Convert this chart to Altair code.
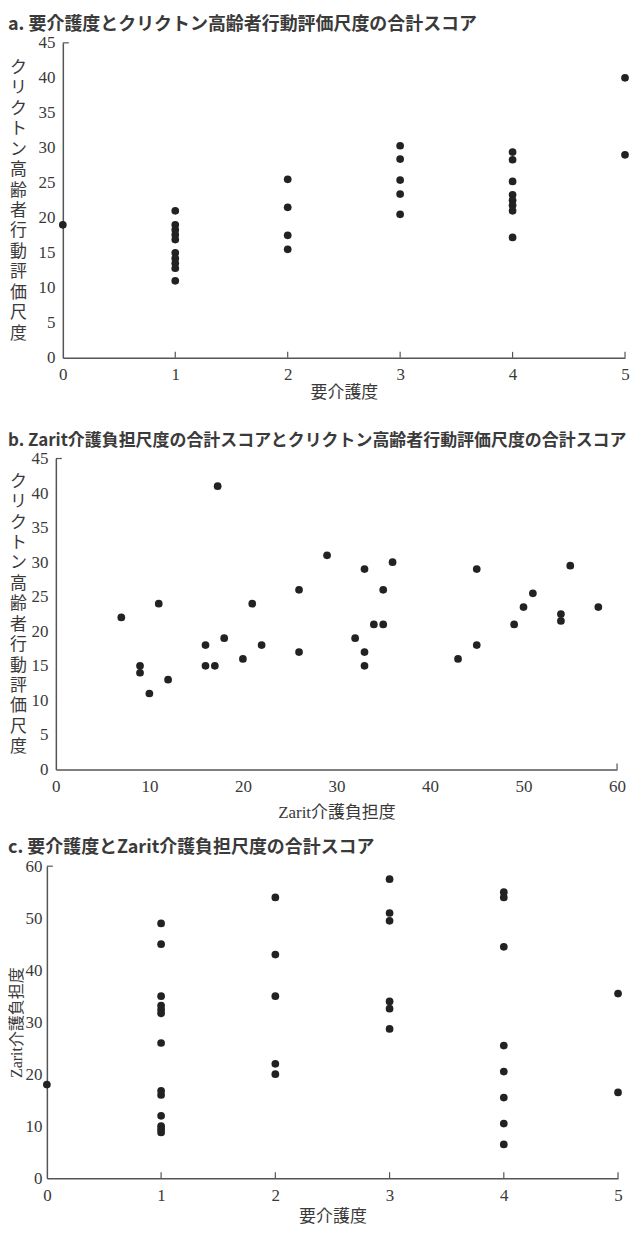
import altair as alt
import pandas as pd

# ---- Panel a: 要介護度 vs クリクトン高齢者行動評価尺度 ----
a_care = [0,
          1, 1, 1, 1, 1, 1, 1, 1, 1, 1,
          2, 2, 2, 2,
          3, 3, 3, 3, 3,
          4, 4, 4, 4, 4, 4, 4, 4,
          5, 5]
a_crichton = [19,
              21, 19, 18.3, 17.6, 16.9, 15, 14.2, 13.5, 12.8, 11,
              25.5, 21.5, 17.5, 15.5,
              30.3, 28.4, 25.4, 23.4, 20.5,
              29.4, 28.3, 25.2, 23.3, 22.5, 21.8, 21.0, 17.2,
              40, 29]

# ---- Panel b: Zarit介護負担度 vs クリクトン ----
b_zarit = [7, 9, 9, 10, 11, 12, 16, 16, 17, 17.3, 18, 20, 21, 22, 26, 26,
           29, 32, 33, 33, 33, 34, 35, 35, 36, 43, 45, 45, 49, 50, 51, 54, 54, 55, 58]
b_crichton = [22, 15, 14, 11, 24, 13, 18, 15, 15, 41, 19, 16, 24, 18, 26, 17,
              31, 19, 29, 17, 15, 21, 21, 26, 30, 16, 29, 18, 21, 23.5, 25.5, 22.5, 21.5, 29.5, 23.5]

# ---- Panel c: 要介護度 vs Zarit介護負担度 ----
c_care = [0,
          1, 1, 1, 1, 1, 1, 1, 1, 1, 1, 1, 1, 1,
          2, 2, 2, 2, 2,
          3, 3, 3, 3, 3, 3,
          4, 4, 4, 4, 4, 4, 4, 4,
          5, 5]
c_zarit = [18,
           49, 45, 35, 33.2, 32.4, 31.7, 26, 16.8, 16, 12, 10, 9.4, 8.8,
           54, 43, 35, 22, 20,
           57.5, 51, 49.5, 34, 32.6, 28.7,
           55, 54, 44.5, 25.5, 20.5, 15.5, 10.5, 6.5,
           35.5, 16.5]

care_ticks = [0, 1, 2, 3, 4, 5]
crichton_ticks = [0, 5, 10, 15, 20, 25, 30, 35, 40, 45]
zarit_ticks = [0, 10, 20, 30, 40, 50, 60]

title_a = "a. 要介護度とクリクトン高齢者行動評価尺度の合計スコア"
title_b = "b. Zarit介護負担尺度の合計スコアとクリクトン高齢者行動評価尺度の合計スコア"
title_c = "c. 要介護度とZarit介護負担尺度の合計スコア"
crichton_title = list("クリクトン高齢者行動評価尺度")
care_title = "要介護度"
zarit_title = "Zarit介護負担度"

NUM_FONT = "Liberation Serif"
JP_SERIF = "Liberation Serif, Noto Sans CJK JP"
JP_TITLE = "Noto Sans CJK JP"
DOT = "#222222"
AX = "#555555"
TXT = "#3a3a3a"
LH = 20.5


def xaxis(values, title, tpad):
    return alt.Axis(values=values, title=title, format="d", ticks=False, grid=False,
                    labelOverlap=False, labelFlush=False,
                    labelPadding=9, titlePadding=tpad, labelFontSize=17, labelFont=NUM_FONT,
                    titleFont=JP_SERIF, titleFontSize=17, titleFontWeight="normal",
                    labelColor=TXT, titleColor=TXT, domainColor=AX, domainWidth=1.5)


def yaxis_upright(values, title, height, tx):
    n = len(title)
    return alt.Axis(values=values, title=title, format="d", ticks=False, grid=False,
                    labelOverlap=False, labelFlush=False,
                    labelPadding=8, labelFontSize=17, labelFont=NUM_FONT,
                    titleFont=JP_SERIF, titleFontSize=17, titleFontWeight="normal",
                    titleAngle=0, titleAlign="center", titleBaseline="middle",
                    titleLineHeight=LH, titleX=tx, titleY=height / 2 - (n - 1) * LH / 2,
                    labelColor=TXT, titleColor=TXT, domainColor=AX, domainWidth=1.5,
                    labelBaseline="middle")


def panel(df, xname, yname, xdom, ydom, xax, yax, xticks_in, ytop, w, h):
    xs = alt.Scale(domain=xdom, nice=False, zero=False)
    ys = alt.Scale(domain=ydom, nice=False, zero=False)
    pts = alt.Chart(df).mark_circle(size=60, color=DOT, opacity=1).encode(
        x=alt.X(f"{xname}:Q", scale=xs, axis=xax),
        y=alt.Y(f"{yname}:Q", scale=ys, axis=yax),
    )
    xt = alt.Chart(pd.DataFrame({xname: xticks_in})).mark_rule(color=AX, strokeWidth=1.2).encode(
        x=alt.X(f"{xname}:Q", scale=xs, axis=xax), y=alt.value(h), y2=alt.value(h - 6))
    yt = alt.Chart(pd.DataFrame({yname: [ytop]})).mark_rule(color=AX, strokeWidth=1.2).encode(
        y=alt.Y(f"{yname}:Q", scale=ys, axis=yax), x=alt.value(0), x2=alt.value(6))
    return alt.layer(pts, xt, yt).properties(
        width=w, height=h, view=alt.ViewBackground(stroke="transparent", strokeWidth=0))


def spacer(h):
    return alt.Chart(pd.DataFrame({"s": [0]})).mark_point(
        size=0, opacity=0, strokeWidth=0).encode(
        x=alt.value(0), y=alt.value(0)).properties(
        width=1, height=h, view=alt.ViewBackground(stroke="transparent", strokeWidth=0))


def titled(sp, p, text, size):
    return alt.hconcat(sp, p, spacing=0).properties(
        title=alt.TitleParams(text, anchor="start", font=JP_TITLE, fontSize=size,
                              fontWeight="bold", color=TXT, offset=0))


dfa = pd.DataFrame({"care": a_care, "crichton": a_crichton})
dfb = pd.DataFrame({"zarit": b_zarit, "crichton": b_crichton})
dfc = pd.DataFrame({"care": c_care, "zarit": c_zarit})

HA, HB, HC = 316, 312, 313

pa = panel(dfa, "care", "crichton", [0, 5], [0, 45],
           xaxis(care_ticks, care_title, 2),
           yaxis_upright(crichton_ticks, crichton_title, HA, -45),
           [1, 2, 3, 4, 5], 45, 564, HA)

pb = panel(dfb, "zarit", "crichton", [0, 60], [0, 45],
           xaxis(zarit_ticks, zarit_title, 10),
           yaxis_upright(crichton_ticks, crichton_title, HB, -38),
           [60], 45, 563, HB)

yc = alt.Axis(values=zarit_ticks, title=zarit_title, format="d", ticks=False, grid=False,
              labelOverlap=False, labelFlush=False,
              labelPadding=5, labelFontSize=17, labelFont=NUM_FONT,
              titleFont=JP_SERIF, titleFontSize=16, titleFontWeight="normal", titlePadding=0,
              labelColor=TXT, titleColor=TXT, domainColor=AX, domainWidth=1.5,
              labelBaseline="middle")
pc = panel(dfc, "care", "zarit", [0, 5], [0, 60],
           xaxis(care_ticks, care_title, 5), yc,
           [1, 2, 3, 4, 5], 60, 573, HC)

A = titled(spacer(HA), pa, title_a, 18)
B = titled(spacer(HB), pb, title_b, 17)
C = titled(spacer(HC), pc, title_c, 18)

chart = alt.vconcat(alt.vconcat(A, B, spacing=31), C, spacing=19).properties(
    padding={"top": 6, "left": 0, "right": 0, "bottom": 0}
).configure_view(stroke="transparent", strokeWidth=0).configure(background="white")

chart.save("out.html", embed_options={"renderer": "svg", "actions": False})
